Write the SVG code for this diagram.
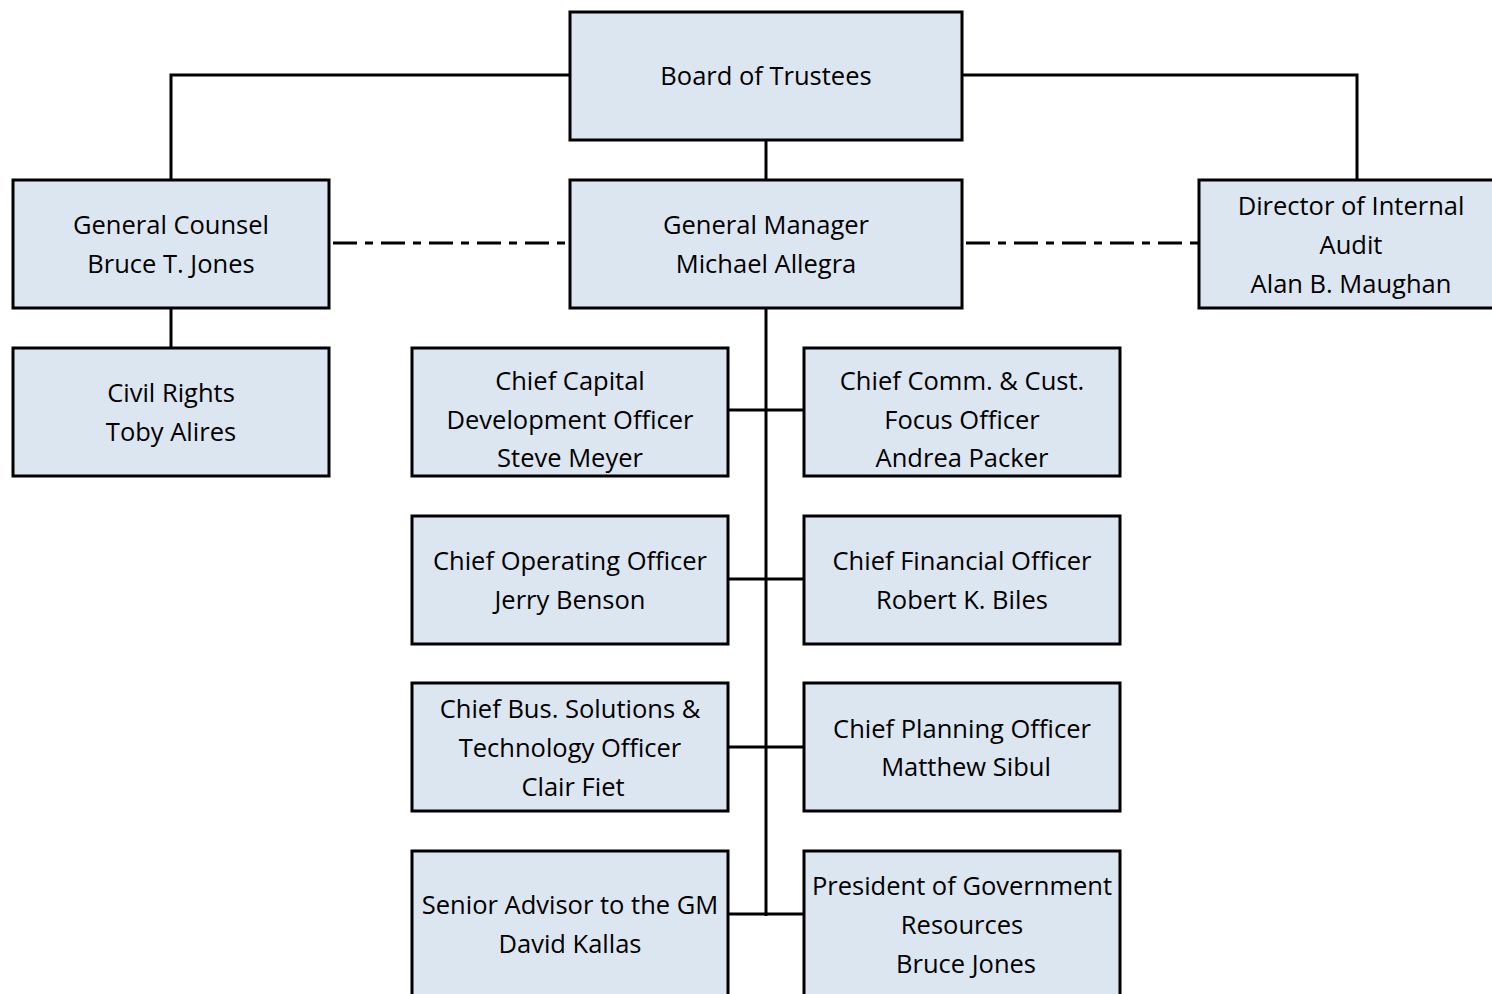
<svg xmlns="http://www.w3.org/2000/svg" width="1492" height="994" viewBox="0 0 1492 994">
<style>
.box{fill:#DCE6F1;stroke:#000;stroke-width:3}
.t{font-family:"Open Sans","Liberation Sans",sans-serif;font-size:25.5px;fill:#000;text-anchor:middle;dominant-baseline:central}
.ln{stroke:#000;stroke-width:3;fill:none}
.dd{stroke:#000;stroke-width:3;fill:none;stroke-dasharray:24 8 8 8}
</style>
<rect width="1492" height="994" fill="#fff"/>
<g id="connectors">
<polyline class="ln" points="570,75 171,75 171,180"/>
<polyline class="ln" points="962,75 1357,75 1357,180"/>
<line class="ln" x1="766" y1="140" x2="766" y2="180"/>
<line class="ln" x1="171" y1="308" x2="171" y2="348"/>
<line class="dd" x1="333" y1="243" x2="570" y2="243"/>
<line class="dd" x1="966" y1="243" x2="1199" y2="243"/>
<line class="ln" x1="766" y1="308" x2="766" y2="916"/>
<line class="ln" x1="728" y1="410" x2="804" y2="410"/>
<line class="ln" x1="728" y1="579" x2="804" y2="579"/>
<line class="ln" x1="728" y1="747" x2="804" y2="747"/>
<line class="ln" x1="728" y1="914" x2="804" y2="914"/>
</g>
<g id="board"><rect class="box" x="570" y="12" width="392" height="128"/><text class="t" x="766" y="75">Board of Trustees</text></g>
<g id="counsel"><rect class="box" x="13" y="180" width="316" height="128"/><text class="t" x="171" y="224">General Counsel</text><text class="t" x="171" y="263">Bruce T. Jones</text></g>
<g id="gm"><rect class="box" x="570" y="180" width="392" height="128"/><text class="t" x="766" y="224">General Manager</text><text class="t" x="766" y="263">Michael Allegra</text></g>
<g id="audit"><rect class="box" x="1199" y="180" width="310" height="128"/><text class="t" x="1351" y="205">Director of Internal</text><text class="t" x="1351" y="244">Audit</text><text class="t" x="1351" y="283">Alan B. Maughan</text></g>
<g id="civil"><rect class="box" x="13" y="348" width="316" height="128"/><text class="t" x="171" y="392">Civil Rights</text><text class="t" x="171" y="431">Toby Alires</text></g>
<g id="capital"><rect class="box" x="412" y="348" width="316" height="128"/><text class="t" x="570" y="380">Chief Capital</text><text class="t" x="570" y="419">Development Officer</text><text class="t" x="570" y="457">Steve Meyer</text></g>
<g id="comm"><rect class="box" x="804" y="348" width="316" height="128"/><text class="t" x="962" y="380">Chief Comm. &amp; Cust.</text><text class="t" x="962" y="419">Focus Officer</text><text class="t" x="962" y="457">Andrea Packer</text></g>
<g id="coo"><rect class="box" x="412" y="516" width="316" height="128"/><text class="t" x="570" y="560">Chief Operating Officer</text><text class="t" x="570" y="599">Jerry Benson</text></g>
<g id="cfo"><rect class="box" x="804" y="516" width="316" height="128"/><text class="t" x="962" y="560">Chief Financial Officer</text><text class="t" x="962" y="599">Robert K. Biles</text></g>
<g id="bus"><rect class="box" x="412" y="683" width="316" height="128"/><text class="t" x="570" y="708">Chief Bus. Solutions &amp;</text><text class="t" x="570" y="747">Technology Officer</text><text class="t" x="573" y="786">Clair Fiet</text></g>
<g id="planning"><rect class="box" x="804" y="683" width="316" height="128"/><text class="t" x="962" y="728">Chief Planning Officer</text><text class="t" x="966" y="766">Matthew Sibul</text></g>
<g id="senior"><rect class="box" x="412" y="851" width="316" height="160"/><text class="t" x="570" y="904">Senior Advisor to the GM</text><text class="t" x="570" y="943">David Kallas</text></g>
<g id="president"><rect class="box" x="804" y="851" width="316" height="160"/><text class="t" x="962" y="885">President of Government</text><text class="t" x="962" y="924">Resources</text><text class="t" x="966" y="963">Bruce Jones</text></g>
</svg>
